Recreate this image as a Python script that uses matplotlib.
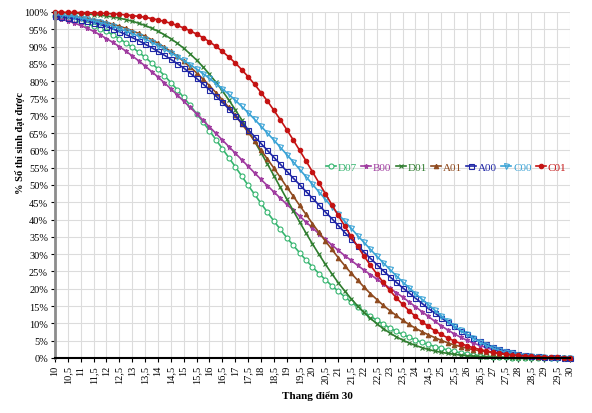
import numpy as np
import matplotlib.pyplot as plt
from matplotlib.ticker import MultipleLocator, FuncFormatter

plt.rcParams['font.family'] = ['Liberation Serif', 'DejaVu Serif']

# thang điểm 10 -> 30, bước 0,25
scores = np.arange(10, 30.01, 0.25)
tick_vals = np.arange(10, 30.01, 0.5)

# % số thí sinh đạt được
d07 = [98.7, 98.4, 98.1, 97.7, 97.2, 96.6, 96.0, 95.2,
       94.4, 93.4, 92.3, 91.1, 89.8, 88.4, 86.9, 85.3,
       83.5, 81.6, 79.6, 77.5, 75.3, 73.0, 70.6, 68.2,
       65.7, 63.1, 60.5, 57.9, 55.3, 52.6, 49.9, 47.3,
       44.7, 42.1, 39.6, 37.2, 34.8, 32.6, 30.4, 28.3,
       26.3, 24.4, 22.6, 20.9, 19.3, 17.7, 16.2, 14.7,
       13.3, 12.1, 10.9, 9.8, 8.7, 7.7, 6.8, 6.0,
       5.2, 4.5, 3.9, 3.3, 2.8, 2.3, 1.9, 1.5,
       1.2, 0.9, 0.7, 0.5, 0.35, 0.25, 0.18, 0.12,
       0.08, 0.05, 0.03, 0.02, 0.01, 0.01, 0, 0,
       0]
b00 = [98.3, 97.9, 97.4, 96.8, 96.1, 95.3, 94.4, 93.4,
       92.3, 91.2, 90.0, 88.7, 87.3, 85.9, 84.4, 82.8,
       81.2, 79.5, 77.8, 76.0, 74.2, 72.4, 70.6, 68.7,
       66.8, 64.9, 63.0, 61.1, 59.2, 57.3, 55.4, 53.5,
       51.6, 49.8, 48.0, 46.2, 44.4, 42.7, 41.0, 39.3,
       37.6, 35.9, 34.3, 32.7, 31.1, 29.6, 28.2, 26.8,
       25.4, 24.1, 22.8, 21.5, 20.2, 18.9, 17.6, 16.2,
       14.8, 13.4, 12.0, 10.6, 9.3, 8.1, 7.0, 6.0,
       5.1, 4.3, 3.6, 3.0, 2.4, 1.9, 1.5, 1.2,
       0.9, 0.7, 0.5, 0.4, 0.3, 0.2, 0.15, 0.1,
       0.1]
d01 = [99.84, 99.79, 99.73, 99.65, 99.55, 99.42, 99.27, 99.08,
       98.84, 98.56, 98.22, 97.81, 97.33, 96.76, 96.10, 95.33,
       94.44, 93.43, 92.28, 90.97, 89.51, 87.88, 86.10, 84.13,
       82.00, 79.70, 77.22, 74.57, 71.77, 68.86, 65.80, 62.63,
       59.37, 56.08, 52.71, 49.32, 45.94, 42.62, 39.32, 36.09,
       32.96, 29.98, 27.09, 24.35, 21.77, 19.38, 17.13, 15.06,
       13.16, 11.45, 9.89, 8.49, 7.24, 6.15, 5.19, 4.35,
       3.62, 3.00, 2.46, 2.01, 1.63, 1.32, 1.06, 0.84,
       0.67, 0.52, 0.41, 0.32, 0.24, 0.19, 0.14, 0.11,
       0.08, 0.06, 0.04, 0.03, 0.02, 0.02, 0.01, 0.01,
       0.01]
a01 = [99.2, 99.1, 98.9, 98.7, 98.4, 98.1, 97.8, 97.4,
       97.0, 96.5, 95.9, 95.3, 94.6, 93.8, 93.0, 92.0,
       91.0, 89.8, 88.6, 87.2, 85.7, 84.1, 82.4, 80.6,
       78.7, 76.7, 74.6, 72.4, 70.1, 67.7, 65.3, 62.7,
       60.1, 57.5, 54.9, 52.2, 49.4, 46.8, 44.1, 41.5,
       38.8, 36.3, 33.8, 31.4, 29.0, 26.7, 24.5, 22.5,
       20.5, 18.6, 16.9, 15.2, 13.7, 12.3, 10.9, 9.7,
       8.6, 7.6, 6.7, 5.9, 5.1, 4.4, 3.8, 3.3,
       2.8, 2.4, 2.1, 1.8, 1.5, 1.2, 1.0, 0.9,
       0.7, 0.6, 0.5, 0.4, 0.3, 0.3, 0.2, 0.2,
       0.1]
a00 = [98.8, 98.6, 98.4, 98.1, 97.8, 97.4, 96.9, 96.4,
       95.8, 95.1, 94.3, 93.5, 92.6, 91.7, 90.7, 89.7,
       88.6, 87.5, 86.3, 85.1, 83.8, 82.3, 80.8, 79.2,
       77.5, 75.7, 73.9, 72.0, 70.0, 68.0, 66.0, 64.0,
       62.0, 60.0, 58.0, 56.0, 54.0, 52.0, 50.1, 48.1,
       46.2, 44.2, 42.2, 40.3, 38.3, 36.3, 34.4, 32.5,
       30.6, 28.8, 27.0, 25.2, 23.5, 21.9, 20.3, 18.8,
       17.3, 15.8, 14.3, 13.0, 11.6, 10.3, 9.1, 7.9,
       6.8, 5.8, 4.8, 4.0, 3.2, 2.6, 2.0, 1.6,
       1.2, 0.9, 0.65, 0.5, 0.35, 0.25, 0.15, 0.1,
       0.05]
c00 = [99.3, 99.1, 98.9, 98.6, 98.3, 97.9, 97.5, 97.0,
       96.5, 95.9, 95.2, 94.5, 93.8, 93.0, 92.2, 91.3,
       90.3, 89.3, 88.2, 87.1, 86.0, 84.8, 83.5, 82.2,
       80.8, 79.3, 77.8, 76.2, 74.5, 72.7, 70.9, 69.0,
       67.0, 65.0, 63.0, 60.9, 58.8, 56.7, 54.5, 52.4,
       50.2, 48.0, 45.9, 43.7, 41.6, 39.5, 37.5, 35.4,
       33.4, 31.4, 29.4, 27.5, 25.6, 23.8, 22.0, 20.3,
       18.6, 17.0, 15.4, 13.8, 12.2, 10.7, 9.3, 8.0,
       6.8, 5.7, 4.6, 3.7, 2.9, 2.2, 1.7, 1.3,
       0.9, 0.65, 0.45, 0.3, 0.2, 0.13, 0.08, 0.05,
       0.03]
c01 = [99.95, 99.93, 99.91, 99.88, 99.84, 99.80, 99.74, 99.67,
       99.58, 99.47, 99.34, 99.17, 98.97, 98.74, 98.46, 98.12,
       97.72, 97.26, 96.72, 96.10, 95.38, 94.55, 93.62, 92.57,
       91.39, 90.08, 88.61, 87.01, 85.27, 83.35, 81.30, 79.10,
       76.73, 74.25, 71.60, 68.86, 66.02, 63.04, 60.03, 56.95,
       53.78, 50.64, 47.49, 44.31, 41.21, 38.13, 35.16, 32.28,
       29.46, 26.80, 24.26, 21.83, 19.57, 17.44, 15.48, 13.68,
       12.00, 10.49, 9.13, 7.88, 6.79, 5.81, 4.94, 4.18,
       3.52, 2.95, 2.45, 2.03, 1.67, 1.37, 1.11, 0.90,
       0.73, 0.58, 0.46, 0.36, 0.29, 0.22, 0.17, 0.13,
       0.10]

# name, values, colour, marker, face, size
series = [
    ("D07", d07, "#35b56f", "o", "white", 3.6),
    ("B00", b00, "#a03ca0", "*", None, 3.6),
    ("D01", d01, "#2f7d2f", "x", None, 2.2),
    ("A01", a01, "#8f4a1e", "^", None, 3.2),
    ("A00", a00, "#1f26a6", "s", "none", 3.6),
    ("C00", c00, "#3aa3d6", "v", "none", 3.6),
    ("C01", c01, "#c41212", "o", None, 3.2),
]

fig = plt.figure(figsize=(5.92, 4.14), dpi=100)
ax = fig.add_axes([0.0929, 0.1329, 0.8699, 0.8357])

for name, vals, col, mk, face, size in series:
    ax.plot(scores, vals, color=col, lw=1.2, marker=mk, ms=size,
            mfc=face if face else col, mec=col, mew=0.8,
            label=name, clip_on=False)

ax.set_xlim(10, 30)
ax.set_ylim(0, 100)
ax.set_xticks(tick_vals)
ax.set_xticklabels([f"{v:g}".replace(".", ",") for v in tick_vals], rotation=90)
ax.yaxis.set_major_locator(MultipleLocator(5))
ax.yaxis.set_major_formatter(FuncFormatter(lambda v, p: f"{v:.0f}%"))
ax.tick_params(labelsize=7.5, length=3, width=0.8, pad=2)
ax.grid(color="#dcdcdc", lw=0.8)
ax.set_axisbelow(True)

for s in ["top", "right"]:
    ax.spines[s].set_visible(False)
ax.spines["left"].set_color("#8c8c8c")
ax.spines["left"].set_linewidth(2)
ax.spines["bottom"].set_color("black")
ax.spines["bottom"].set_linewidth(1.5)

leg = ax.legend(loc="center left", bbox_to_anchor=(0.526, 0.552), ncol=7,
                frameon=False, fontsize=8, handlelength=0.9,
                handletextpad=0.15, columnspacing=0.4,
                borderpad=0, borderaxespad=0)
for txt, ln in zip(leg.get_texts(), leg.get_lines()):
    txt.set_color(ln.get_color())

fig.text(0.034, 1 - 143 / 414, "% Số thí sinh đạt được", rotation=90,
         ha="center", va="center", fontsize=7.5, fontweight="bold")
fig.text(317 / 592, 1 - 396 / 414, "Thang điểm 30", ha="center", va="center",
         fontsize=8, fontweight="bold")

fig.savefig("out.png", dpi=100)
